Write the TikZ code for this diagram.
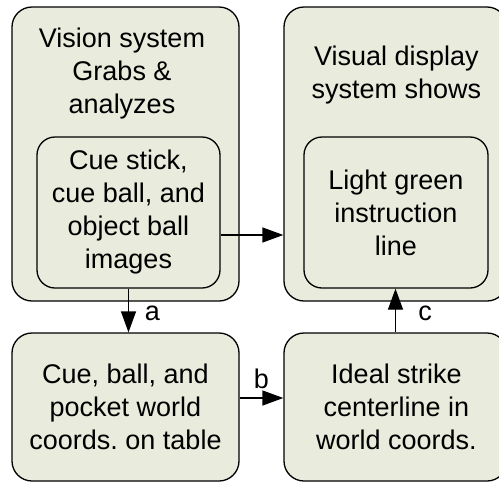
\documentclass[tikz,border=0pt]{standalone}
\usepackage{fontspec}
\setmainfont{Liberation Sans}
\usetikzlibrary{arrows.meta}
\definecolor{boxfill}{RGB}{233,236,220}
\frenchspacing
\tikzset{
  box/.style={draw=black, line width=1.3pt, fill=boxfill, rounded corners=20pt, inner sep=0pt},
  inbox/.style={box, rounded corners=18pt, align=center, font=\fontsize{27}{33}\selectfont},
  ttl/.style={align=center, inner sep=0pt, anchor=north, font=\fontsize{27}{33}\selectfont},
  lbl/.style={inner sep=0pt, font=\fontsize{27}{33}\selectfont},
  arr/.style={line width=1.3pt, -{Triangle[length=21pt,width=15pt]}}
}
\begin{document}
\begin{tikzpicture}[x=1pt,y=-1pt]
\clip (0,0) rectangle (499,483);
\fill[white] (0,0) rectangle (499,483);
% outer boxes
\node[box, minimum width=227pt, minimum height=294pt] (outL) at (125.5,154) {};
\node[box, minimum width=223pt, minimum height=294pt] (outR) at (395.5,154) {};
% titles
\node[ttl] (tL) at (122,27.5) {Vision system\\Grabs \&\\analyzes};
\node[ttl] (tR) at (396.5,45.5) {Visual display\\system shows};
% inner boxes
\node[inbox, minimum width=183pt, minimum height=151pt] (inL) at (128.5,212.5) {Cue stick,\\cue ball, and\\object ball\\images};
\node[inbox, minimum width=184pt, minimum height=151pt] (inR) at (396,212.5) {Light green\\instruction\\line};
% bottom boxes
\node[inbox, rounded corners=20pt, minimum width=227pt, minimum height=148pt] (BL) at (125.5,407) {Cue, ball, and\\pocket world\\coords. on table};
\node[inbox, rounded corners=20pt, minimum width=223pt, minimum height=148pt] (BR) at (395.5,407) {\hspace*{2pt}Ideal strike\\\hspace*{2pt}centerline in\\\hspace*{2pt}world coords.};
% connectors
\draw[arr] ([yshift=-22.5pt]inL.east) -- ([yshift=-22.5pt]inL.east -| outR.west);
\draw[arr] (inL.south) -- (inL.south |- BL.north);
\draw[arr] ([yshift=9pt]BL.east) -- ([yshift=9pt]BL.east -| BR.west);
\draw[arr] (BR.north) -- (BR.north |- inR.south);
% labels
\node[lbl] (la) at (152.5,313) {a};
\node[lbl] (lb) at (261.5,379) {b};
\node[lbl] (lc) at (425,313) {c};
\end{tikzpicture}
\end{document}
